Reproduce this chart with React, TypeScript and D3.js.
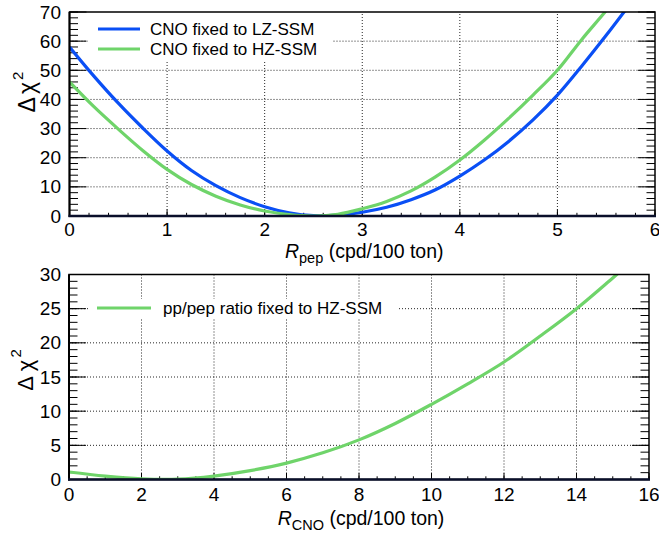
import React from "react";
import * as d3 from "d3";

// ---------- data ----------
const pepX = [0, 0.25, 0.5, 0.75, 1.0, 1.25, 1.5, 1.75, 2.0, 2.25, 2.5, 2.75, 3.0, 3.25, 3.5, 3.75, 4.0, 4.25, 4.5, 4.75, 5.0, 5.25, 5.5, 5.75];
const pepLZ = [58, 48, 38.7, 30.2, 22.3, 15.6, 10.4, 6.3, 3.2, 1.1, 0.1, 0.3, 1.3, 3.0, 5.6, 9.0, 13.7, 19.2, 25.6, 33.0, 41.5, 51.5, 62, 73];
const pepHZ = [46, 37.5, 29.8, 22.5, 16.0, 10.8, 6.8, 3.8, 1.7, 0.5, 0.0, 0.6, 2.5, 5.0, 8.6, 13.4, 19.2, 26, 33.5, 41.5, 50, 60.6, 70.5, 81];
const cnoX = [0, 1, 2, 3, 4, 5, 6, 7, 8, 9, 10, 11, 12, 13, 14, 15, 15.5];
const cnoHZ = [1.1, 0.5, 0.1, 0.05, 0.5, 1.3, 2.4, 3.9, 5.8, 8.2, 11.0, 14.0, 17.2, 21.0, 25.0, 29.5, 31.8];

const topXTicks = [0, 1, 2, 3, 4, 5, 6];
const topYTicks = [0, 10, 20, 30, 40, 50, 60, 70];
const botXTicks = [0, 2, 4, 6, 8, 10, 12, 14, 16];
const botYTicks = [0, 5, 10, 15, 20, 25, 30];

const topLegend = ["CNO fixed to LZ-SSM", "CNO fixed to HZ-SSM"];
const botLegend = ["pp/pep ratio fixed to HZ-SSM"];

const BLUE = "#0a4ff5";
const GREEN = "#6fd46a";
const FONT = "'Liberation Sans', Arial, Helvetica, sans-serif";

type Series = { xs: number[]; ys: number[]; color: string; label: string };

type PanelProps = {
  id: string;
  x: d3.ScaleLinear<number, number>;
  y: d3.ScaleLinear<number, number>;
  xTicks: number[];
  yTicks: number[];
  xMinorStep: number;
  yMinorStep: number;
  series: Series[];
  legendBox: [number, number, number, number];
  legendItems: { y: number; x0: number; x1: number; tx: number; label: string; color: string }[];
  xLabelBaseline: number;
  titleBaseline: number;
  titleSub: string;
  ytitle: React.ReactNode;
};

function Panel(p: PanelProps) {
  const [x0, x1] = p.x.range();
  const [y0, y1] = p.y.range(); // y0 bottom, y1 top
  const xd = p.x.domain();
  const yd = p.y.domain();
  const xMinor = d3.range(xd[0], xd[1] + 1e-9, p.xMinorStep);
  const yMinor = d3.range(yd[0], yd[1] + 1e-9, p.yMinorStep);
  const yMajLen = 17, yMinLen = 8.5, xMajLen = 6.5, xMinLen = 3.2;
  return (
    <g>
      <defs>
        <clipPath id={p.id}>
          <rect x={x0} y={y1} width={x1 - x0} height={y0 - y1} />
        </clipPath>
      </defs>
      {/* grid */}
      {p.xTicks.slice(1, -1).map((t) => (
        <line key={"gx" + t} x1={p.x(t)} x2={p.x(t)} y1={y0} y2={y1} stroke="#000" strokeWidth={1} strokeDasharray="1,2" opacity={0.85} />
      ))}
      {p.yTicks.slice(1, -1).map((t) => (
        <line key={"gy" + t} x1={x0} x2={x1} y1={p.y(t)} y2={p.y(t)} stroke="#000" strokeWidth={1} strokeDasharray="1,2" opacity={0.85} />
      ))}
      {/* minor ticks */}
      {xMinor.map((t, i) => (
        <line key={"mx" + i} x1={p.x(t)} x2={p.x(t)} y1={y0} y2={y0 - xMinLen} stroke="#000" strokeWidth={1} />
      ))}
      {yMinor.map((t, i) => (
        <g key={"my" + i}>
          <line x1={x0} x2={x0 + yMinLen} y1={p.y(t)} y2={p.y(t)} stroke="#000" strokeWidth={1} />
          <line x1={x1} x2={x1 - yMinLen} y1={p.y(t)} y2={p.y(t)} stroke="#000" strokeWidth={1} />
        </g>
      ))}
      {p.xTicks.map((t) => (
        <line key={"Mx" + t} x1={p.x(t)} x2={p.x(t)} y1={y0} y2={y0 - xMajLen} stroke="#000" strokeWidth={1} />
      ))}
      {p.yTicks.map((t) => (
        <g key={"My" + t}>
          <line x1={x0} x2={x0 + yMajLen} y1={p.y(t)} y2={p.y(t)} stroke="#000" strokeWidth={1} />
          <line x1={x1} x2={x1 - yMajLen} y1={p.y(t)} y2={p.y(t)} stroke="#000" strokeWidth={1} />
        </g>
      ))}
      {/* curves */}
      <g clipPath={`url(#${p.id})`}>
        {p.series.map((s) => {
          const gen = d3
            .line<number>()
            .x((_, i) => p.x(s.xs[i]))
            .y((v) => p.y(v))
            .curve(d3.curveCatmullRom.alpha(0.5));
          return <path key={s.label} d={gen(s.ys) || ""} fill="none" stroke={s.color} strokeWidth={3.2} strokeLinejoin="round" />;
        })}
      </g>
      {/* frame */}
      <rect x={x0} y={y1} width={x1 - x0} height={y0 - y1} fill="none" stroke="#000" strokeWidth={1.5} />
      <line x1={x0} x2={x0} y1={y1} y2={y0 + 1} stroke="#000" strokeWidth={2} />
      <line x1={x0 - 1} x2={x1 + 1} y1={y0} y2={y0} stroke="#0a0f2a" strokeWidth={2.5} />
      {/* legend */}
      <rect x={p.legendBox[0]} y={p.legendBox[1]} width={p.legendBox[2]} height={p.legendBox[3]} fill="#fff" />
      {p.legendItems.map((l) => (
        <g key={l.label}>
          <line x1={l.x0} x2={l.x1} y1={l.y} y2={l.y} stroke={l.color} strokeWidth={3.2} />
          <text x={l.tx} y={l.y} dominantBaseline="central" fontSize={17} fontFamily={FONT} fill="#000">
            {l.label}
          </text>
        </g>
      ))}
      {/* tick labels */}
      {p.xTicks.map((t) => (
        <text key={"lx" + t} x={p.x(t)} y={p.xLabelBaseline} textAnchor="middle" fontSize={19} fontFamily={FONT} fill="#000">
          {t}
        </text>
      ))}
      {p.yTicks.map((t) => (
        <text key={"ly" + t} x={61} y={p.y(t)} textAnchor="end" dominantBaseline="central" fontSize={19} fontFamily={FONT} fill="#000">
          {t}
        </text>
      ))}
      {/* x title */}
      <text x={(x0 + x1) / 2 + 2} y={p.titleBaseline} textAnchor="middle" fontSize={19.5} fontFamily={FONT} fill="#000">
        <tspan fontStyle="italic">R</tspan>
        <tspan fontSize={14.5} dy={5}>{p.titleSub}</tspan>
        <tspan dy={-5}> (cpd/100 ton)</tspan>
      </text>
      {p.ytitle}
    </g>
  );
}

export default function App() {
  const xTop = d3.scaleLinear().domain([0, 6]).range([69.5, 655]);
  const yTop = d3.scaleLinear().domain([0, 70]).range([216, 12]);
  const xBot = d3.scaleLinear().domain([0, 16]).range([69, 649]);
  const yBot = d3.scaleLinear().domain([0, 30]).range([479.5, 274.5]);

  const topTitle = (
    <g transform="translate(27,92) rotate(-90)">
      <text x={0} y={0} textAnchor="middle" dominantBaseline="central" fontSize={23} fontFamily={FONT} fill="#000">
        <tspan>Δ</tspan>
        <tspan dx={3}>χ</tspan>
        <tspan fontSize={15} dy={-10} dx={2}>2</tspan>
      </text>
    </g>
  );
  const botTitle = (
    <g transform="translate(25,370) rotate(-90)">
      <text x={0} y={0} textAnchor="middle" dominantBaseline="central" fontSize={22} fontFamily={FONT} fill="#000">
        <tspan>Δ χ</tspan>
        <tspan fontSize={15} dy={-10} dx={2}>2</tspan>
      </text>
    </g>
  );

  return (
    <svg width={659} height={534} style={{ position: "absolute", left: 0, top: 0, background: "#fff" }}>
      <rect x={0} y={0} width={659} height={534} fill="#fff" />
      <Panel
        id="clipTop"
        x={xTop}
        y={yTop}
        xTicks={topXTicks}
        yTicks={topYTicks}
        xMinorStep={0.2}
        yMinorStep={2}
        series={[
          { xs: pepX, ys: pepLZ, color: BLUE, label: topLegend[0] },
          { xs: pepX, ys: pepHZ, color: GREEN, label: topLegend[1] },
        ]}
        legendBox={[88, 14, 245, 48]}
        legendItems={[
          { y: 29, x0: 98, x1: 140, tx: 150, label: topLegend[0], color: BLUE },
          { y: 49, x0: 98, x1: 140, tx: 150, label: topLegend[1], color: GREEN },
        ]}
        xLabelBaseline={236}
        titleBaseline={258}
        titleSub="pep"
        ytitle={topTitle}
      />
      <Panel
        id="clipBot"
        x={xBot}
        y={yBot}
        xTicks={botXTicks}
        yTicks={botYTicks}
        xMinorStep={0.5}
        yMinorStep={1}
        series={[{ xs: cnoX, ys: cnoHZ, color: GREEN, label: botLegend[0] }]}
        legendBox={[88, 299, 309, 19]}
        legendItems={[{ y: 308, x0: 97, x1: 151, tx: 163, label: botLegend[0], color: GREEN }]}
        xLabelBaseline={501}
        titleBaseline={525}
        titleSub="CNO"
        ytitle={botTitle}
      />
    </svg>
  );
}
